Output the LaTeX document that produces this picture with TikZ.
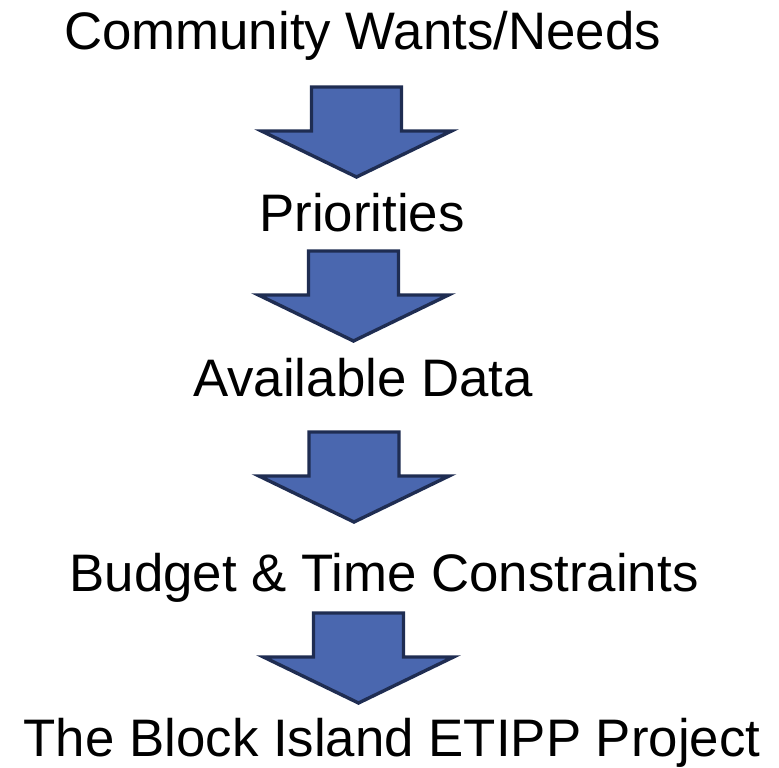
\documentclass[tikz,border=0pt]{standalone}
\usepackage{fontspec}
\setmainfont{Liberation Sans}
\usepackage{xcolor}
\definecolor{arrowblue}{HTML}{4A67AF}
\definecolor{arrowedge}{HTML}{1F2D52}
\tikzset{
	steptext/.style={anchor=base, inner sep=0pt, font=\fontsize{52.8}{60}\selectfont, text=black},
}
% block arrow pointing down: #1,#2 = top centre of the shaft
\newcommand{\flowarrow}[2]{%
	\filldraw[fill=arrowblue, draw=arrowedge, line width=3.4pt, line join=miter]
		(#1-45,#2) -- (#1+45,#2) -- (#1+45,#2+44) -- (#1+95,#2+44)
		-- (#1,#2+90) -- (#1-95,#2+44) -- (#1-45,#2+44) -- cycle;
}

\begin{document}
\begin{tikzpicture}[x=1pt,y=-1pt]
	% white canvas, pixel-sized
	\path[use as bounding box] (0,0) rectangle (779,768);
	\fill[white] (0,0) rectangle (779,768);

	% the steps, top to bottom
	\node[steptext] (wants) at (362.5,49) {Community Wants/Needs};
	\node[steptext] (prio) at (362,231) {Priorities};
	\node[steptext] (data) at (363,396) {Available Data};
	\node[steptext] (budget) at (384,591) {Budget \& Time Constraints};
	\node[steptext] (project) at (392,756) {The Block Island ETIPP Project};

	% arrows between the steps
	\flowarrow{356.5}{87}
	\flowarrow{353.5}{251}
	\flowarrow{354}{432}
	\flowarrow{358.5}{613}
\end{tikzpicture}
\end{document}
